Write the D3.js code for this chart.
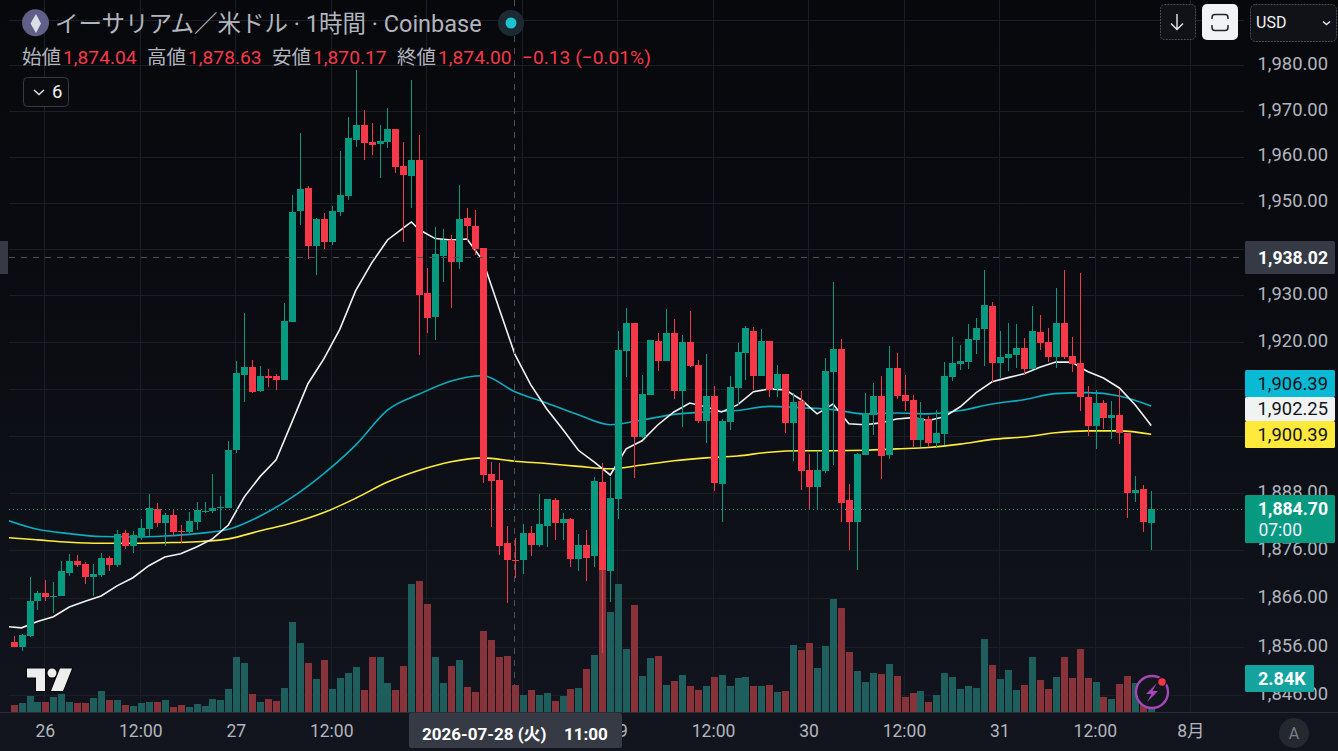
<!DOCTYPE html>
<html>
<head>
<meta charset="utf-8">
<script src="https://cdn.jsdelivr.net/npm/d3@7"></script>
<style>
  html, body { margin: 0; padding: 0; background: #0b0d12; overflow: hidden; }
  text { font-family: Roboto, "Noto Sans CJK JP", sans-serif; }
</style>
</head>
<body>
<div id="chart"></div>
<script>
var openVals = [1856.9,1856.0,1858.3,1865.5,1867.2,1866.4,1866.4,1871.3,1873.8,1873.2,1870.5,1870.9,1874.4,1873.0,1879.7,1876.9,1878.8,1880.5,1884.7,1881.8,1883.4,1880.1,1879.9,1882.0,1884.1,1884.3,1884.9,1884.9,1897.0,1913.0,1914.7,1909.6,1912.8,1912.8,1911.9,1924.3,1948.2,1953.2,1940.6,1946.5,1941.5,1948.0,1951.5,1963.7,1966.9,1963.2,1962.8,1963.2,1966.0,1958.0,1955.8,1959.3,1930.5,1925.4,1938.5,1941.9,1937.1,1946.7,1945.0,1940.2,1892.0,1890.8,1877.5,1874.04,1874.0,1879.7,1877.2,1881.1,1886.6,1881.8,1882.6,1874.3,1877.2,1874.9,1890.3,1871.8,1886.8,1918.1,1924.1,1899.8,1908.7,1920.2,1916.0,1922.0,1909.6,1920.0,1915.1,1903.2,1908.5,1889.9,1903.0,1910.2,1917.7,1922.4,1912.8,1920.2,1910.0,1913.2,1902.8,1907.5,1892.9,1889.3,1892.6,1913.6,1918.5,1886.6,1882.0,1896.0,1904.5,1908.5,1896.0,1914.5,1908.7,1907.7,1899.2,1903.6,1898.6,1900.5,1912.6,1915.3,1915.7,1920.5,1922.8,1927.7,1915.5,1916.6,1917.2,1918.8,1914.3,1922.2,1920.0,1916.8,1924.1,1917.0,1915.5,1908.3,1902.2,1907.0,1903.9,1904.5,1900.7,1888.0,1888.9,1881.8];
var highVals = [1858.3,1858.7,1870.5,1867.6,1869.9,1869.5,1873.8,1875.2,1875.0,1873.6,1873.2,1875.4,1874.8,1880.3,1880.3,1880.1,1882.6,1887.8,1886.0,1883.9,1884.7,1881.4,1884.1,1886.2,1886.2,1892.0,1887.4,1899.0,1916.0,1926.2,1916.2,1914.9,1914.3,1913.2,1928.4,1951.7,1965.2,1953.7,1946.7,1947.8,1949.3,1961.3,1968.7,1978.9,1970.2,1967.4,1966.9,1970.6,1966.0,1963.2,1976.7,1964.7,1935.9,1944.7,1944.3,1943.0,1953.9,1948.9,1948.4,1940.2,1894.5,1894.3,1881.1,1878.63,1881.6,1881.1,1887.8,1886.8,1887.0,1883.9,1882.8,1879.5,1880.3,1891.4,1894.3,1891.4,1922.4,1927.3,1924.1,1913.0,1920.5,1922.0,1927.1,1925.0,1921.5,1926.7,1916.2,1917.5,1910.6,1903.6,1912.8,1919.8,1923.4,1923.2,1922.8,1920.2,1915.1,1913.2,1909.2,1909.6,1896.2,1896.8,1916.6,1932.9,1920.7,1889.9,1896.4,1909.2,1911.3,1912.8,1919.2,1917.6,1913.0,1908.7,1907.3,1904.3,1905.6,1915.7,1921.1,1919.4,1923.9,1925.2,1935.4,1928.6,1922.4,1924.1,1923.9,1920.9,1927.7,1925.8,1923.0,1931.6,1935.4,1921.1,1934.8,1910.6,1909.8,1907.7,1907.5,1909.8,1900.7,1891.6,1889.7,1888.5];
var lowVals = [1856.0,1855.2,1858.1,1863.5,1865.5,1862.9,1866.4,1870.7,1872.6,1868.9,1866.4,1870.5,1871.8,1872.6,1876.3,1875.5,1878.2,1879.0,1880.9,1876.9,1879.0,1877.5,1879.7,1880.3,1883.9,1883.9,1880.5,1884.9,1896.5,1907.3,1909.2,1909.4,1910.4,1909.8,1911.9,1924.3,1945.2,1937.8,1934.4,1940.0,1940.8,1947.1,1950.6,1962.1,1959.3,1960.4,1955.4,1961.9,1956.5,1941.5,1948.9,1917.2,1922.0,1920.5,1932.9,1927.3,1935.6,1941.7,1938.7,1890.1,1880.9,1875.0,1865.1,1870.17,1871.1,1874.8,1876.7,1876.7,1878.2,1878.2,1872.6,1871.8,1869.7,1872.6,1854.8,1865.3,1882.6,1912.6,1891.2,1899.6,1908.7,1913.8,1916.0,1907.9,1902.0,1914.7,1902.8,1898.6,1888.5,1882.0,1901.3,1906.6,1911.9,1909.8,1912.8,1908.3,1908.3,1900.7,1894.7,1888.7,1884.7,1884.7,1892.2,1893.9,1882.0,1876.1,1872.0,1896.0,1900.3,1891.0,1895.2,1907.9,1905.3,1897.7,1897.7,1897.7,1897.7,1898.1,1911.7,1914.0,1914.3,1917.4,1914.9,1911.5,1912.3,1913.8,1914.5,1913.0,1914.3,1918.3,1915.7,1914.5,1916.4,1913.6,1905.3,1900.0,1897.3,1901.5,1899.4,1898.3,1882.8,1886.2,1879.9,1876.1];
var closeVals = [1856.0,1858.4,1865.5,1867.2,1866.2,1866.6,1871.6,1873.8,1873.0,1870.5,1871.1,1874.4,1873.0,1879.5,1876.9,1879.3,1880.7,1884.9,1881.8,1883.4,1879.9,1879.9,1882.2,1884.5,1884.3,1884.9,1885.1,1897.0,1913.4,1914.7,1909.4,1912.8,1912.3,1911.9,1924.5,1948.0,1953.0,1940.6,1946.5,1941.5,1948.2,1951.7,1964.1,1966.9,1963.0,1962.6,1963.4,1966.0,1957.8,1956.0,1959.3,1930.1,1925.2,1938.9,1941.9,1937.1,1946.5,1945.0,1940.0,1891.8,1890.6,1876.9,1874.0,1874.00,1879.7,1877.2,1881.6,1886.8,1881.8,1882.6,1874.3,1877.2,1874.5,1890.6,1872.0,1887.0,1918.3,1924.1,1899.8,1909.0,1920.5,1916.0,1922.0,1909.6,1920.0,1914.9,1903.2,1908.5,1890.1,1903.2,1910.4,1917.9,1923.0,1912.8,1920.2,1909.8,1913.2,1902.8,1907.3,1892.6,1889.3,1892.9,1913.8,1918.5,1885.9,1882.0,1896.2,1904.9,1908.5,1895.8,1914.5,1908.5,1907.5,1899.2,1903.9,1898.6,1900.7,1912.8,1915.5,1915.9,1920.7,1923.0,1928.0,1915.5,1916.8,1917.5,1918.8,1914.3,1922.4,1919.8,1916.8,1924.1,1916.8,1915.3,1908.3,1902.2,1907.0,1903.9,1904.5,1900.7,1888.0,1888.7,1882.0,1884.7];
// volume in thousands
var volumeVals = [0.61,0.78,1.36,0.86,0.86,1.28,1.53,0.86,0.78,0.78,1.19,1.78,1.03,1.03,0.61,0.53,0.78,0.86,0.86,1.03,0.44,0.61,0.44,0.69,0.53,1.11,1.03,1.95,4.62,4.12,1.53,0.86,1.11,0.94,2.03,7.54,5.79,4.12,2.78,4.37,1.92,2.84,3.26,3.76,1.84,4.59,4.59,2.42,1.84,3.84,10.69,10.94,9.02,4.59,2.42,3.84,4.34,2.09,1.67,6.76,6.01,4.59,4.68,2.25,1.42,1.84,1.42,1.59,0.92,1.34,1.92,2.0,3.59,4.76,11.86,8.35,10.69,5.26,8.93,3.01,4.51,4.68,2.25,2.59,3.09,2.17,1.84,2.17,2.92,3.09,2.17,2.84,2.92,2.17,2.17,2.25,1.67,1.75,5.59,5.18,5.76,3.67,5.51,9.44,8.68,5.01,3.42,2.51,3.26,3.17,4.01,3.01,1.25,1.59,1.75,0.84,1.42,3.26,2.92,1.92,2.17,2.0,6.1,3.92,2.76,3.51,1.84,2.25,4.59,2.67,1.92,2.92,4.59,2.84,5.26,2.84,2.51,1.25,1.09,2.34,3.01,2.42,2.17,2.84];

// moving averages, the bars they were read at are listed next to them
var maFastBars = d3.range(-1, 50, 2).concat([50], d3.range(51, 144, 2));
var maFastVals = [1860.2,1859.9,1861.2,1862.2,1864.2,1865.4,1866.5,1868.6,1870.3,1872.8,1874.6,1875.3,1876.7,1878.4,1881.3,1887.2,1891.5,1895.0,1903.0,1911.1,1916.4,1922.7,1931.0,1936.9,1941.9,1944.5,1945.8,1944.1,1942.2,1941.9,1942.1,1937.4,1927.3,1917.4,1910.9,1905.8,1901.5,1897.0,1894.5,1891.8,1897.3,1899.0,1902.4,1905.1,1907.0,1906.2,1905.1,1906.6,1909.4,1910.0,1909.8,1907.7,1904.7,1906.8,1902.6,1902.4,1902.8,1903.6,1903.9,1903.3,1904.1,1906.2,1909.2,1911.5,1912.4,1913.2,1914.6,1915.7,1915.7,1913.7,1912.3,1910.2,1906.6,1902.25];
var maSlowBars = d3.range(-1, 144, 4);
var maMidVals = [1882.4,1880.4,1879.5,1878.9,1878.8,1879.0,1879.5,1880.4,1883.2,1887.1,1892.1,1898.1,1905.5,1908.9,1911.7,1912.8,1909.4,1907.0,1904.5,1902.4,1903.4,1904.6,1905.1,1905.4,1906.3,1906.0,1905.6,1904.7,1904.9,1904.7,1905.4,1906.8,1907.7,1909.0,1909.2,1908.5,1906.39];
var maSlowVals = [1878.7,1878.2,1877.7,1877.5,1877.5,1877.6,1877.8,1878.4,1880.1,1881.7,1883.9,1886.9,1890.3,1892.8,1894.6,1895.4,1894.7,1894.2,1893.6,1893.1,1893.9,1894.8,1895.4,1895.8,1896.6,1896.9,1896.9,1897.0,1897.3,1897.6,1898.3,1899.3,1899.8,1900.7,1901.1,1901.1,1900.39];

var priceTicks = [1980,1970,1960,1950,1930,1920,1888,1876,1866,1856,1846];
var gridPrices = [1990,1980,1970,1960,1950,1940,1930,1920,1910,1900,1888,1876,1866,1856,1846];
var timeBars = [4,16,28,40,52,64,76,88,100,112,124,136,148];
// the two empty ones sit under the crosshair date box
var timeLabels = ["26","12:00","27","12:00","","","29","12:00","30","12:00","31","12:00","8月"];

var hoverBar = 63, hoverPrice = 1938.02, lastPrice = 1884.70;
var ohlcLabels = ["始値","高値","安値","終値"];
var ohlcTexts = ["1,874.04","1,878.63","1,870.17","1,874.00"];

var width = 1338, height = 751;
var plotLeft = 9, plotRight = 1244, volBase = 712.3;
var up = "#089981", down = "#f73848";
var upVol = "#1e5f5e", downVol = "#873339";
var textGray = "#b2b5be";

var x = d3.scaleLinear().domain([0, 143]).range([13.6, 1151.2]);
var y = d3.scaleLog().domain([1846, 1980]).range([695.3, 65.3]);
var yVol = d3.scaleLinear().domain([0, 11.86]).range([volBase, volBase - 142]);

var svg = d3.select("#chart").append("svg")
  .attr("width", width)
  .attr("height", height)
  .style("display", "block");

var defs = svg.append("defs");
var bg = defs.append("linearGradient").attr("id", "bg")
  .attr("x1", 0).attr("y1", 0).attr("x2", 0).attr("y2", 1);
bg.append("stop").attr("offset", "0%").attr("stop-color", "#07080b");
bg.append("stop").attr("offset", "35%").attr("stop-color", "#090b10");
bg.append("stop").attr("offset", "100%").attr("stop-color", "#12151e");
defs.append("clipPath").attr("id", "plotClip").append("rect")
  .attr("x", plotLeft).attr("y", 0)
  .attr("width", plotRight - plotLeft).attr("height", volBase);

svg.append("rect").attr("width", width).attr("height", height).attr("fill", "url(#bg)");

// grid
var grid = svg.append("g").attr("stroke", "#1b1e27").attr("stroke-width", 1);
grid.selectAll(".h").data(gridPrices).enter().append("line")
  .attr("x1", plotLeft).attr("x2", plotRight)
  .attr("y1", function(d) { return Math.round(y(d)) + 0.5; })
  .attr("y2", function(d) { return Math.round(y(d)) + 0.5; });
grid.selectAll(".v").data(timeBars).enter().append("line")
  .attr("x1", function(d) { return Math.round(x(d)) - 0.5; })
  .attr("x2", function(d) { return Math.round(x(d)) - 0.5; })
  .attr("y1", 0).attr("y2", volBase);

var plot = svg.append("g").attr("clip-path", "url(#plotClip)");

// volume
plot.append("g").selectAll("rect").data(volumeVals).enter().append("rect")
  .attr("x", function(d, i) { return Math.round(x(i)) - 3.5; })
  .attr("width", 7)
  .attr("y", function(d) { return yVol(d); })
  .attr("height", function(d) { return volBase - yVol(d); })
  .attr("fill", function(d, i) { return closeVals[i] >= openVals[i] ? upVol : downVol; })
  .attr("shape-rendering", "crispEdges");

// moving averages
function maLine(bars, vals, color, curve) {
  var line = d3.line()
    .x(function(d, i) { return x(bars[i]); })
    .y(function(d) { return y(d); })
    .curve(curve);
  plot.append("path")
    .datum(vals)
    .attr("d", line)
    .attr("fill", "none")
    .attr("stroke", color)
    .attr("stroke-width", 1.6);
}
maLine(maSlowBars, maSlowVals, "#ffeb3b", d3.curveMonotoneX);
maLine(maSlowBars, maMidVals, "#0cadc0", d3.curveMonotoneX);
maLine(maFastBars, maFastVals, "#f1f1f1", d3.curveLinear);

// last price line
svg.append("line")
  .attr("x1", plotLeft).attr("x2", plotRight)
  .attr("y1", Math.round(y(lastPrice)) + 0.5).attr("y2", Math.round(y(lastPrice)) + 0.5)
  .attr("stroke", up).attr("stroke-dasharray", "1 3");

// candles
var candles = plot.append("g").selectAll("g").data(openVals).enter().append("g")
  .attr("fill", function(d, i) { return closeVals[i] >= openVals[i] ? up : down; })
  .attr("shape-rendering", "crispEdges");
candles.append("rect")
  .attr("x", function(d, i) { return Math.round(x(i)) - 0.5; })
  .attr("width", 1)
  .attr("y", function(d, i) { return y(highVals[i]); })
  .attr("height", function(d, i) { return y(lowVals[i]) - y(highVals[i]); });
candles.append("rect")
  .attr("x", function(d, i) { return Math.round(x(i)) - 3.5; })
  .attr("width", 7)
  .attr("y", function(d, i) { return y(Math.max(openVals[i], closeVals[i])); })
  .attr("height", function(d, i) { return Math.max(1, Math.abs(y(openVals[i]) - y(closeVals[i]))); });

// crosshair
var hx = Math.round(x(hoverBar)) - 0.5, hy = Math.round(y(hoverPrice)) - 0.5;
svg.append("line").attr("x1", hx).attr("x2", hx).attr("y1", 0).attr("y2", volBase)
  .attr("stroke", "#4b4f5a").attr("stroke-dasharray", "6 6");
svg.append("line").attr("x1", plotLeft).attr("x2", plotRight).attr("y1", hy).attr("y2", hy)
  .attr("stroke", "#4b4f5a").attr("stroke-dasharray", "6 6");
svg.append("rect").attr("x", 0).attr("y", 241).attr("width", 8).attr("height", 33).attr("fill", "#363a45");

// axis baseline
svg.append("line").attr("x1", 0).attr("x2", width).attr("y1", 712.5).attr("y2", 712.5)
  .attr("stroke", "#2a2d37");

// price axis
var priceAxis = d3.axisRight(y)
  .tickValues(priceTicks)
  .tickFormat(d3.format(",.2f"))
  .tickSize(0);
var gPrice = svg.append("g")
  .attr("transform", "translate(1328,-1.5)")
  .call(priceAxis);
gPrice.select(".domain").remove();
gPrice.selectAll("text")
  .attr("x", 0)
  .attr("text-anchor", "end")
  .style("font-size", "18.4px")
  .attr("fill", textGray);

// time axis
var timeAxis = d3.axisBottom(x)
  .tickValues(timeBars)
  .tickFormat(function(d, i) { return timeLabels[i]; })
  .tickSize(0);
var gTime = svg.append("g")
  .attr("transform", "translate(-0.6,713)")
  .call(timeAxis);
gTime.select(".domain").remove();
gTime.selectAll("text")
  .attr("y", 12)
  .style("font-size", "17.5px")
  .attr("fill", textGray);

// price tags
function priceTag(top, h, fill, color, label, bold) {
  svg.append("rect").attr("x", 1245).attr("y", top).attr("width", 90).attr("height", h)
    .attr("rx", 1.5).attr("fill", fill);
  svg.append("text").attr("x", 1328).attr("y", top + h / 2 + 6)
    .attr("text-anchor", "end").attr("fill", color)
    .style("font-size", bold ? "17.6px" : "18.4px").style("font-weight", bold ? 700 : 400)
    .text(label);
}
priceTag(241, 33, "#363a45", "#ffffff", "1,938.02", true);
priceTag(370, 27, "#0ab9d3", "#10131a", "1,906.39");
priceTag(397, 24, "#f1f3f3", "#10131a", "1,902.25");
priceTag(421, 27, "#ffe93b", "#10131a", "1,900.39");
svg.append("rect").attr("x", 1245).attr("y", 495).attr("width", 90).attr("height", 48)
  .attr("rx", 1.5).attr("fill", up);
svg.append("text").attr("x", 1328).attr("y", 514.5).attr("text-anchor", "end").attr("fill", "#fff")
  .style("font-size", "17.6px").style("font-weight", 700).text("1,884.70");
svg.append("text").attr("x", 1302).attr("y", 535.5).attr("text-anchor", "end").attr("fill", "#eef")
  .style("font-size", "17.5px").text("07:00");
svg.append("rect").attr("x", 1245).attr("y", 665).attr("width", 69).attr("height", 27)
  .attr("rx", 1.5).attr("fill", "#14a39f");
svg.append("text").attr("x", 1258).attr("y", 684.5).attr("fill", "#fff")
  .style("font-size", "18px").style("font-weight", 700).text("2.84K");

// crosshair time label
svg.append("rect").attr("x", 409).attr("y", 713).attr("width", 213).attr("height", 35)
  .attr("rx", 2).attr("fill", "#363a45");
svg.append("text").attr("x", 422).attr("y", 739.5).attr("fill", "#fff")
  .style("font-size", "17px").style("font-weight", 700).text("2026-07-28 (火)");
svg.append("text").attr("x", 564).attr("y", 739.5).attr("fill", "#fff")
  .style("font-size", "17px").style("font-weight", 700).text("11:00");

// header
var head = svg.append("g");
head.append("circle").attr("cx", 35.5).attr("cy", 22.7).attr("r", 13.5).attr("fill", "#5f5f88");
head.append("path").attr("d", "M36 14L41 23.5L36 33L30.5 23.5Z").attr("fill", "#dcdee6");
head.append("text").attr("x", 55).attr("y", 32).attr("fill", textGray)
  .style("font-size", "23.5px")
  .text("イーサリアム／米ドル · 1時間 · Coinbase");
head.append("circle").attr("cx", 511).attr("cy", 23).attr("r", 13).attr("fill", "#1d2a33");
head.append("circle").attr("cx", 511).attr("cy", 23).attr("r", 5.5).attr("fill", "#1cc4d1");

var ohlcLabelX = [22, 147, 272, 397], ohlcValueX = [63, 188, 313, 438];
ohlcLabels.forEach(function(d, i) {
  head.append("text").attr("x", ohlcLabelX[i]).attr("y", 64).attr("fill", textGray)
    .style("font-size", "19.5px").text(d);
  head.append("text").attr("x", ohlcValueX[i]).attr("y", 63.5).attr("fill", down)
    .style("font-size", "19.2px").text(ohlcTexts[i]);
});
head.append("text").attr("x", 522).attr("y", 63.5).attr("fill", down)
  .style("font-size", "19.2px").text("−0.13 (−0.01%)");

// collapse button
head.append("rect").attr("x", 23.5).attr("y", 77.5).attr("width", 45).attr("height", 29).attr("rx", 4)
  .attr("fill", "#0a0b0f").attr("stroke", "#363a45");
head.append("path").attr("d", "M34 90l5 4.5l5-4.5").attr("fill", "none").attr("stroke", "#e6e7ea").attr("stroke-width", 1.4);
head.append("text").attr("x", 52).attr("y", 98).attr("fill", "#f0f1f3")
  .style("font-size", "18.5px").text("6");

// top right buttons
head.append("rect").attr("x", 1160.5).attr("y", 4.5).attr("width", 35).attr("height", 35).attr("rx", 4)
  .attr("fill", "#101218").attr("stroke", "#4a4e59").attr("stroke-dasharray", "2 1");
head.append("path").attr("d", "M1177 14V29M1171 23.5L1177 29.5L1183 23.5").attr("fill", "none")
  .attr("stroke", "#e6e7ea").attr("stroke-width", 1.4);
head.append("rect").attr("x", 1202).attr("y", 4).attr("width", 36).attr("height", 36).attr("rx", 5)
  .attr("fill", "#f2f3f4");
head.append("path").attr("d", "M1212 19V17.5a3 3 0 0 1 3-3H1225a3 3 0 0 1 3 3V19M1212 25V27.5a3 3 0 0 0 3 3H1225a3 3 0 0 0 3-3V25")
  .attr("fill", "none").attr("stroke", "#22252c").attr("stroke-width", 1.5);
head.append("rect").attr("x", 1250.5).attr("y", 4.5).attr("width", 86).attr("height", 37).attr("rx", 5)
  .attr("fill", "#101218").attr("stroke", "#4a4e59").attr("stroke-dasharray", "2 1");
head.append("text").attr("x", 1256).attr("y", 28).attr("fill", "#f0f1f3")
  .style("font-size", "16px").text("USD");
head.append("path").attr("d", "M1323 21.5l3.5 3l3.5-3").attr("fill", "none").attr("stroke", "#e6e7ea").attr("stroke-width", 1.4);

// tradingview mark
var logo = svg.append("g").attr("fill", "#eeeeee").attr("stroke", "#08090d").attr("stroke-width", 2).attr("paint-order", "stroke");
logo.append("path").attr("d", "M27 668.5H45V691H36V677.5H27Z");
logo.append("circle").attr("cx", 52).attr("cy", 673).attr("r", 4.5);
logo.append("path").attr("d", "M60 668.5H72L63 691H51Z");

// bolt button
var bolt = svg.append("g");
bolt.append("circle").attr("cx", 1152).attr("cy", 692).attr("r", 16).attr("fill", "#14161d")
  .attr("stroke", "#a845b8").attr("stroke-width", 2.4);
bolt.append("path").attr("d", "M1157 683L1146 694H1151.5L1147 702L1158 691H1152.5Z").attr("fill", "#a845b8");
bolt.append("circle").attr("cx", 1162).attr("cy", 682).attr("r", 5).attr("fill", "#14161d");
bolt.append("circle").attr("cx", 1162).attr("cy", 682).attr("r", 3.7).attr("fill", "#f23645");

// auto scale button
svg.append("circle").attr("cx", 1294).attr("cy", 733).attr("r", 15).attr("fill", "#25282f");
svg.append("text").attr("x", 1294).attr("y", 739).attr("text-anchor", "middle").attr("fill", "#7b7e87")
  .style("font-size", "16px").text("A");
</script>
</body>
</html>
